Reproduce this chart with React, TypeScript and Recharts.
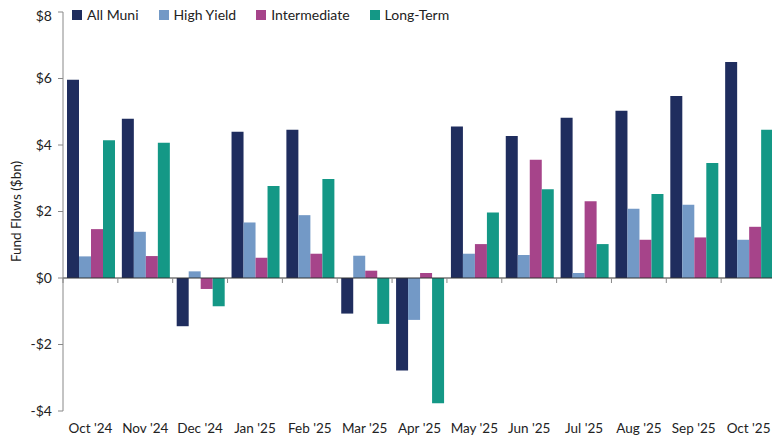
import React from 'react';
import { BarChart, Bar, XAxis, YAxis, ReferenceLine } from 'recharts';

const months = ["Oct '24", "Nov '24", "Dec '24", "Jan '25", "Feb '25", "Mar '25", "Apr '25", "May '25", "Jun '25", "Jul '25", "Aug '25", "Sep '25", "Oct '25"];
const allMuni = [5.96, 4.79, -1.45, 4.40, 4.46, -1.07, -2.78, 4.56, 4.27, 4.82, 5.03, 5.47, 6.50];
const highYield = [0.65, 1.39, 0.20, 1.67, 1.89, 0.67, -1.26, 0.73, 0.69, 0.15, 2.08, 2.20, 1.15];
const intermediate = [1.47, 0.66, -0.33, 0.61, 0.73, 0.22, 0.15, 1.02, 3.56, 2.31, 1.15, 1.22, 1.54];
const longTerm = [4.14, 4.07, -0.85, 2.77, 2.98, -1.38, -3.77, 1.97, 2.67, 1.02, 2.53, 3.46, 4.46];
const yTicks = [-4, -2, 0, 2, 4, 6, 8];

const series = [
  { key: 'allMuni', name: 'All Muni', color: '#1f2d5e' },
  { key: 'highYield', name: 'High Yield', color: '#7399c6' },
  { key: 'intermediate', name: 'Intermediate', color: '#a6448a' },
  { key: 'longTerm', name: 'Long-Term', color: '#149886' },
];

const data = months.map((m, i) => ({
  month: m,
  allMuni: allMuni[i],
  highYield: highYield[i],
  intermediate: intermediate[i],
  longTerm: longTerm[i],
}));

const fmt = (v: number) => (v < 0 ? `-$${-v}` : `$${v}`);

const ZeroLine = (props: any) => {
  const { x1, y1, x2 } = props;
  const n = months.length;
  const step = (x2 - x1) / n;
  const ticks = [];
  for (let i = 0; i <= n; i++) {
    const x = x1 + i * step;
    ticks.push(<line key={i} x1={x} x2={x} y1={y1} y2={y1 + 5} stroke="#888" strokeWidth={1} />);
  }
  return (
    <g>
      <line x1={x1} x2={x2} y1={y1} y2={y1} stroke="#333" strokeWidth={1} />
      {ticks}
    </g>
  );
};

export default function App() {
  return (
    <div style={{ position: 'relative', width: 772, height: 428, fontFamily: 'Lato, sans-serif' }}>
      <BarChart
        width={772}
        height={428}
        data={data}
        margin={{ top: 4, right: 4, bottom: 0, left: 0 }}
        barCategoryGap={4}
        barGap={0}
      >
        <XAxis
          dataKey="month"
          axisLine={false}
          tickLine={false}
          height={25}
          interval={0}
          tickMargin={6}
          tick={{ fontSize: 13.5, fill: '#222', fontFamily: 'Lato, sans-serif' }}
        />
        <YAxis
          width={55}
          domain={[-4, 8]}
          ticks={yTicks}
          tickFormatter={fmt}
          axisLine={{ stroke: '#888' }}
          tickLine={{ stroke: '#888' }}
          tickSize={5}
          tickMargin={6}
          tick={{ fontSize: 14, fill: '#222', fontFamily: 'Lato, sans-serif' }}
          label={{
            value: 'Fund Flows ($bn)',
            angle: -90,
            position: 'insideLeft',
            offset: 8,
            style: { textAnchor: 'middle', fontSize: 13.5, fill: '#222', fontFamily: 'Lato, sans-serif' },
          }}
        />
        {series.map((s) => (
          <Bar key={s.key} dataKey={s.key} name={s.name} fill={s.color} isAnimationActive={false} />
        ))}
        <ReferenceLine y={0} shape={ZeroLine} />
      </BarChart>
      <div
        style={{
          position: 'absolute',
          top: -1,
          left: 64,
          zIndex: 10,
          display: 'flex',
          gap: 20,
          fontSize: 14,
          color: '#222',
          lineHeight: '15px',
          alignItems: 'center',
        }}
      >
        {series.map((s) => (
          <div key={s.key} style={{ display: 'flex', alignItems: 'center' }}>
            <span style={{ display: 'inline-block', width: 10, height: 10, background: s.color, marginRight: 5 }} />
            <span>{s.name}</span>
          </div>
        ))}
      </div>
    </div>
  );
}
